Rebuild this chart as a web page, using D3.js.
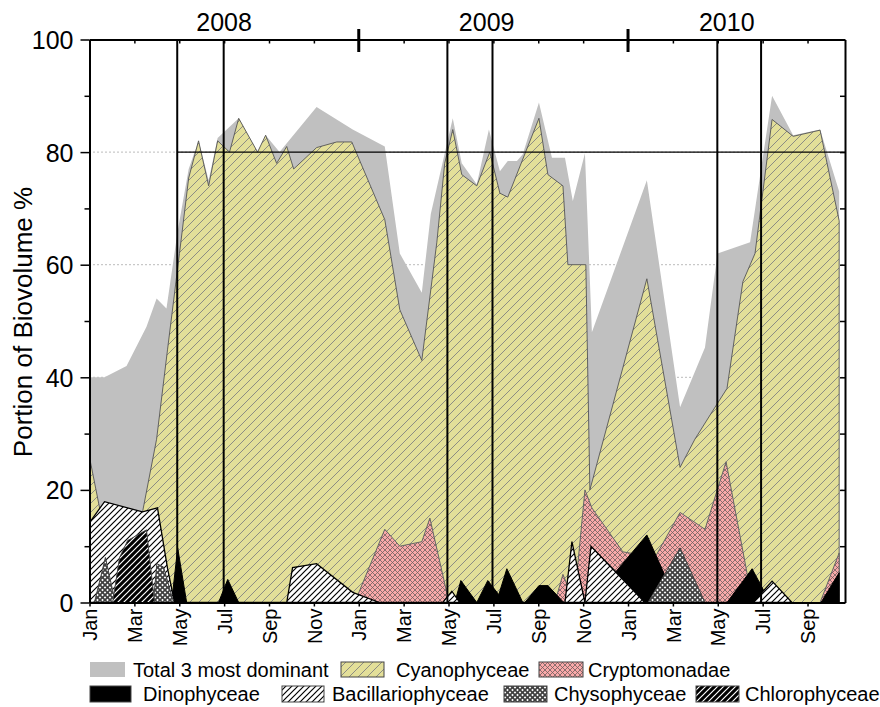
<!DOCTYPE html>
<html><head><meta charset="utf-8">
<script src="https://cdn.jsdelivr.net/npm/d3@7"></script>
<style>
body{margin:0;background:#fff}
text{font-family:"Liberation Sans",Arial,sans-serif;fill:#000}
</style>
</head><body>
<svg id="c" width="880" height="707"></svg>
<script>
// ---------------- DATA (x = months since Jan 2008, y = % of biovolume) ----------------
const monthTicks  = [0,2,4,6,8,10,12,14,16,18,20,22,24,26,28,30,32];
const monthLabels = ["Jan","Mar","May","Jul","Sep","Nov","Jan","Mar","May","Jul","Sep","Nov","Jan","Mar","May","Jul","Sep"];
const yTicks      = [0,20,40,60,80,100];
const years       = ["2008","2009","2010"];
const yearLabelAt = [6.0, 17.7, 28.4];
const yearBreaks  = [12, 24];
const markerLines = [3.91, 5.98, 15.95, 17.96, 27.98, 29.93];
const refLevel    = 80;

const totalDominant = [[0,40],[0.67,40],[1.65,42],[2.54,49],[2.99,54],[3.43,52.2],[3.93,66],[4.42,77],[4.86,82],[5.31,75],[5.71,82.5],[6.65,86],[7.49,80],[7.85,83],[8.47,80],[10.12,88],[11.73,84],[13.16,81],[13.83,62],[14.81,55],[15.21,69],[16.19,86],[16.59,78],[17.26,74.3],[17.80,84],[18.29,76.6],[18.64,78.4],[19.05,78.4],[19.31,79.6],[20.03,88.8],[20.61,79],[21.19,79],[21.54,71.3],[22.08,79.8],[22.39,48],[24.84,75],[26.32,34.7],[27.43,45.3],[27.99,62],[29.44,64],[30.42,90],[31.36,83],[32.56,84],[33.41,73]];

const cyanophyceae = [[0,25.8],[0.54,15],[1.56,13],[2.36,16],[2.99,29],[3.48,45],[4.01,62],[4.42,75.4],[4.86,82],[5.31,74],[5.71,82],[6.24,80],[6.65,86],[7.49,80],[7.85,83],[8.34,78],[8.79,81],[9.10,77],[10.12,80.8],[11.02,81.8],[11.69,81.8],[13.16,68],[13.83,52],[14.81,43],[15.48,64],[15.83,78],[16.19,84],[16.59,76],[17.26,74],[17.84,80],[18.29,72.7],[18.64,72],[20.03,86],[20.43,76],[21.10,74],[21.32,60],[22.12,60],[22.30,20],[24.84,57.5],[26.32,24],[26.98,29],[27.99,35.4],[28.41,38],[29.12,57],[29.66,62],[30.42,85.8],[31.36,82.8],[32.56,83.9],[33.41,67.8]];

const cryptomonadae = [[11.82,0],[13.16,13],[13.83,10],[14.81,10.8],[15.17,15],[15.92,1.8],[16.15,0],[20.74,0],[21.10,5],[21.6,0],[22.08,20],[22.39,16.8],[23.77,9],[25.20,8],[26.32,16],[27.43,13],[28.37,25],[29.30,5.3],[29.53,0],[32.56,0],[33.41,8.8]];

const dinophyceae = [[3.66,0],[3.93,9.7],[4.33,0],[5.75,0],[6.16,4.1],[6.65,0],[16.28,0],[16.55,3.9],[17.26,0],[17.75,3.9],[18.24,1.4],[18.60,6],[19.31,0],[19.40,0],[20.03,3],[20.43,3],[21.14,0],[22.30,0],[24.84,12],[26.18,0],[28.41,0],[29.53,6],[30.33,0],[32.60,0],[33.41,5.3]];

const bacillariophyceae = [[0,14.2],[0.67,17.9],[2.36,16.1],[3.03,16.8],[3.48,6],[3.79,0],[8.79,0],[9.05,6.2],[10.12,6.9],[11.73,1.8],[12.93,0],[15.74,0],[16.15,2],[16.50,0],[21.19,0],[21.50,10.8],[22.08,0],[22.35,10],[24.75,0],[29.57,0],[30.42,3.8],[31.31,0]];

const chrysophyceae = [[0.22,0],[0.71,8],[1.15,0],[2.85,0],[3.0,6.9],[3.3,6.3],[3.75,0],[24.89,0],[26.32,9.7],[27.43,0]];

const chlorophyceae = [[1.03,0],[1.34,8],[1.70,11],[2.54,12.9],[2.90,0]];

const legendNames = ["Total 3 most dominant","Cyanophyceae","Cryptomonadae","Dinophyceae","Bacillariophyceae","Chysophyceae","Chlorophyceae"];

// ---------------- STYLE / LAYOUT ----------------
const W = 880, H = 707;
const L = 89.5, R = 845, T = 39.5, B = 602.5;
const svg = d3.select("#c");
const x = d3.scaleLinear().domain([0, 33.67]).range([L, R]);
const y = d3.scaleLinear().domain([0, 100]).range([B, T]);

const defs = svg.append("defs");
function hatch(id, size, bg, color, width, cross) {
  const p = defs.append("pattern").attr("id", id).attr("patternUnits","userSpaceOnUse")
    .attr("width", size).attr("height", size);
  p.append("rect").attr("width", size).attr("height", size).attr("fill", bg);
  const s = size;
  p.append("path").attr("d", `M${-s/2},${s/2} L${s/2},${-s/2} M0,${s} L${s},0 M${s/2},${1.5*s} L${1.5*s},${s/2}`)
    .attr("stroke", color).attr("stroke-width", width).attr("fill","none");
  if (cross) {
    p.append("path").attr("d", `M${-s/2},${s/2} L${s/2},${1.5*s} M0,0 L${s},${s} M${s/2},${-s/2} L${1.5*s},${s/2}`)
      .attr("stroke", color).attr("stroke-width", width).attr("fill","none");
  }
}
hatch("pCyano", 9, "#e3df99", "#8c8c84", 1, false);
hatch("pBacil", 6, "#ffffff", "#000000", 1.2, false);
hatch("pChloro", 6, "#000000", "#ffffff", 1.2, false);
hatch("pCrypto", 5, "#f9a9a9", "#6e6060", 0.8, true);
hatch("pChryso", 5, "#ffffff", "#3f3f3f", 1.7, true);

svg.append("clipPath").attr("id","plotClip").append("rect")
  .attr("x", L).attr("y", T).attr("width", R - L).attr("height", B - T);

const styles = [
  {data: totalDominant,     fill: "#c0c0c0",       stroke: "none",    sw: 0},
  {data: cyanophyceae,      fill: "url(#pCyano)",  stroke: "#555",    sw: 0.9},
  {data: cryptomonadae,     fill: "url(#pCrypto)", stroke: "#666",    sw: 1},
  {data: dinophyceae,       fill: "#000",          stroke: "#000",    sw: 1},
  {data: bacillariophyceae, fill: "url(#pBacil)",  stroke: "#000",    sw: 1.3},
  {data: chrysophyceae,     fill: "url(#pChryso)", stroke: "#444",    sw: 1},
  {data: chlorophyceae,     fill: "url(#pChloro)", stroke: "#444",    sw: 1}
];

// gridlines (dotted)
const grid = svg.append("g");
[20,40,60,80].forEach(v => {
  grid.append("line").attr("x1", L).attr("x2", R).attr("y1", y(v)).attr("y2", y(v))
    .attr("stroke", "#777").attr("stroke-width", 1).attr("stroke-dasharray", "1,3");
});

const area = d3.area().x(d => x(d[0])).y0(y(0)).y1(d => y(d[1]));
const plot = svg.append("g").attr("clip-path","url(#plotClip)");
styles.forEach(s => {
  plot.append("path").attr("d", area(s.data)).attr("fill", s.fill)
    .attr("stroke", s.stroke).attr("stroke-width", s.sw).attr("stroke-linejoin","miter");
});

// reference line at 80 and vertical marker lines
svg.append("line").attr("x1", x(markerLines[0])).attr("x2", R).attr("y1", y(refLevel)).attr("y2", y(refLevel))
  .attr("stroke", "#000").attr("stroke-width", 1.2);
markerLines.forEach(m => {
  svg.append("line").attr("x1", x(m)).attr("x2", x(m)).attr("y1", T).attr("y2", B)
    .attr("stroke", "#000").attr("stroke-width", 2);
});

// axes
function styleAxis(g) {
  g.select(".domain").attr("stroke-width", 2).attr("stroke", "#000");
  g.selectAll(".tick line").attr("stroke-width", 1.5).attr("stroke", "#000");
}
const xb = svg.append("g").attr("transform", `translate(0,${B})`)
  .call(d3.axisBottom(x).tickValues(monthTicks).tickSize(4).tickSizeOuter(0).tickFormat((d,i) => monthLabels[i]));
styleAxis(xb);
xb.selectAll("text").attr("transform","rotate(-90)").attr("x", -6).attr("y", 0).attr("dy","0.36em")
  .style("text-anchor","end").style("font-size","20px");

const xt = svg.append("g").attr("transform", `translate(0,${T})`)
  .call(d3.axisBottom(x).tickValues(monthTicks).tickSize(4).tickSizeOuter(0).tickFormat(""));
styleAxis(xt);

const yl = svg.append("g").attr("transform", `translate(${L},0)`)
  .call(d3.axisLeft(y).tickValues(yTicks).tickSize(9).tickPadding(7).tickSizeOuter(0));
styleAxis(yl);
yl.selectAll("text").style("font-size","25px").attr("dy","0.36em");
const ylm = svg.append("g").attr("transform", `translate(${L},0)`)
  .call(d3.axisLeft(y).tickValues([10,30,50,70,90]).tickSize(5).tickSizeOuter(0).tickFormat(""));
styleAxis(ylm); ylm.select(".domain").remove();

const yr = svg.append("g").attr("transform", `translate(${R},0)`)
  .call(d3.axisLeft(y).tickValues(d3.range(0,101,10)).tickSize(5).tickSizeOuter(0).tickFormat(""));
styleAxis(yr);

// year separators and labels
yearBreaks.forEach(m => {
  svg.append("line").attr("x1", x(m)).attr("x2", x(m)).attr("y1", 29).attr("y2", 52)
    .attr("stroke", "#000").attr("stroke-width", 3);
});
years.forEach((t,i) => {
  svg.append("text").attr("x", x(yearLabelAt[i])).attr("y", 31).attr("text-anchor","middle")
    .style("font-size","25px").text(t);
});

// y title
svg.append("text").attr("transform", "translate(32,322) rotate(-90)").attr("text-anchor","middle")
  .style("font-size","26px").text("Portion of Biovolume %");

// legend
const legLayout = [
  {sx:90,  sw:35, sy:662, sh:15, tx:133},
  {sx:341, sw:43, sy:662, sh:15, tx:396},
  {sx:539, sw:44, sy:662, sh:15, tx:588},
  {sx:90,  sw:41, sy:686, sh:16, tx:143},
  {sx:282, sw:42, sy:686, sh:16, tx:332},
  {sx:504, sw:43, sy:686, sh:16, tx:554},
  {sx:696, sw:43, sy:686, sh:16, tx:745}
];
const legendOrder = [0,1,2,3,4,5,6];
const leg = svg.append("g");
legendOrder.forEach((si, i) => {
  const l = legLayout[i], s = styles[si];
  leg.append("rect").attr("x", l.sx).attr("y", l.sy).attr("width", l.sw).attr("height", l.sh)
    .attr("fill", s.fill).attr("stroke", s.stroke === "none" ? "none" : "#444").attr("stroke-width", 1);
  leg.append("text").attr("x", l.tx).attr("y", l.sy + l.sh/2).attr("dy","0.36em")
    .style("font-size","20px").text(legendNames[si]);
});
</script>
</body></html>
